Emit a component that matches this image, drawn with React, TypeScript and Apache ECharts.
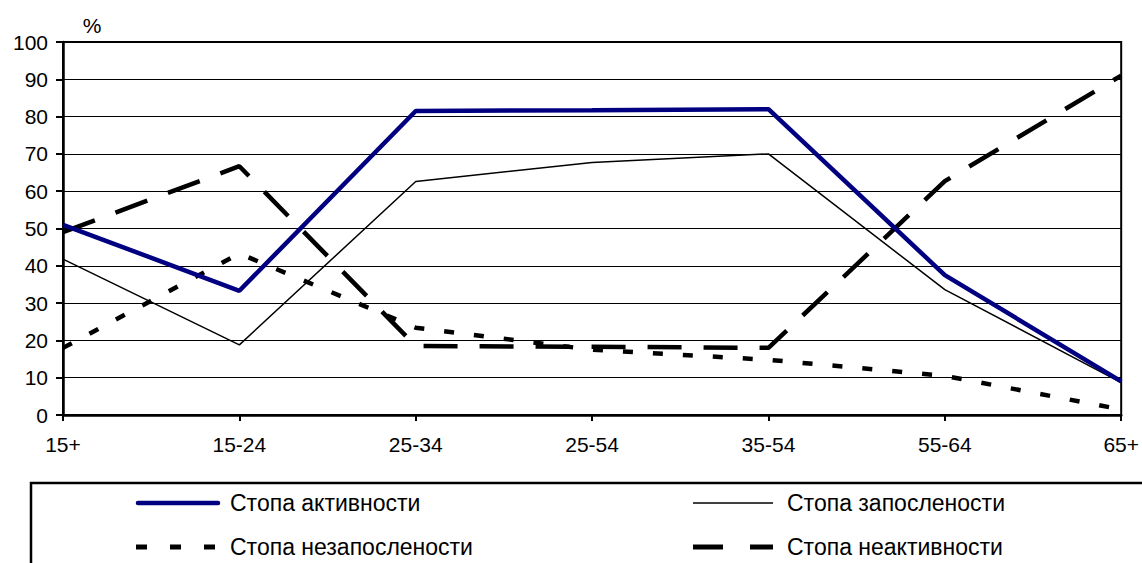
import React, { useEffect, useRef } from "react";
import * as echarts from "echarts";

const categories = ["15+", "15-24", "25-34", "25-54", "35-54", "55-64", "65+"];
const activityRate = [51, 33.3, 81.5, 81.7, 82, 37.5, 9];
const employmentRate = [41.8, 18.8, 62.6, 67.7, 70, 33.6, 8.7];
const unemploymentRate = [18, 43.3, 23.4, 17.5, 14.8, 10.5, 1.5];
const inactivityRate = [49, 66.7, 18.5, 18.3, 18, 62.7, 91];
const seriesNames = [
  "Стопа активности",
  "Стопа запослености",
  "Стопа незапослености",
  "Стопа неактивности",
];

const FONT = "'Liberation Sans', Arial, sans-serif";

const lineStyles = [
  { color: "#000080", width: 4.5, type: "solid" as any },
  { color: "#000", width: 1.5, type: "solid" as any },
  { color: "#000", width: 4.5, type: [10, 20] as any },
  { color: "#000", width: 4.5, type: [34, 22] as any },
];

export default function App() {
  const ref = useRef<HTMLDivElement>(null);
  useEffect(() => {
    document.body.style.margin = "0";
    const chart = echarts.init(ref.current!, null, { renderer: "svg" });
    const legendCommon = {
      orient: "vertical" as const,
      top: 491,
      itemWidth: 83,
      itemHeight: 24,
      itemGap: 20,
      padding: 0,
      selectedMode: false,
      icon: "rect",
      itemStyle: { color: "rgba(0,0,0,0)", opacity: 0, borderWidth: 0 },
      lineStyle: { opacity: 0 },
      textStyle: {
        fontFamily: FONT,
        fontSize: 23,
        color: "#000",
        lineHeight: 24,
        padding: [0, 0, 0, 6],
      },
    };
    const legendIcon = (x: number, y: number, w: number, width: number, color: string, dash: number[] | null, cap: string) => ({
      type: "line",
      silent: true,
      shape: { x1: x, y1: y, x2: x + w, y2: y },
      style: { stroke: color, lineWidth: width, lineDash: dash, lineCap: cap },
    });
    chart.setOption({
      animation: false,
      backgroundColor: "#fff",
      textStyle: { fontFamily: FONT },
      grid: {
        left: 63,
        right: 19,
        top: 42,
        bottom: 148,
        show: true,
        borderColor: "#000",
        borderWidth: 2,
        backgroundColor: "transparent",
      },
      legend: [
        { ...legendCommon, left: 136, data: [seriesNames[0], seriesNames[2]] },
        { ...legendCommon, left: 693, data: [seriesNames[1], seriesNames[3]] },
      ],
      graphic: [
        {
          type: "rect",
          shape: { x: 31, y: 483, width: 1200, height: 200 },
          style: { fill: "none", stroke: "#000", lineWidth: 2.5 },
          silent: true,
        },
        legendIcon(138, 503, 80, 4.5, "#000080", null, "round"),
        legendIcon(693, 503, 80, 1.5, "#000", null, "butt"),
        legendIcon(136, 547, 80, 5, "#000", [11, 23], "butt"),
        legendIcon(693, 547, 80, 5, "#000", [30, 27], "butt"),
        {
          type: "text",
          x: 92,
          y: 25,
          style: {
            text: "%",
            fontFamily: FONT,
            fontSize: 21,
            fill: "#000",
            align: "center",
            verticalAlign: "middle",
          },
        },
      ],
      xAxis: {
        type: "category",
        data: categories,
        boundaryGap: false,
        axisLine: { lineStyle: { color: "#000", width: 2.5 } },
        axisTick: { show: true, length: 6, inside: false, lineStyle: { color: "#000", width: 2 } },
        axisLabel: { color: "#000", fontSize: 21, fontFamily: FONT, margin: 19, interval: 0 },
        splitLine: { show: false },
      },
      yAxis: {
        type: "value",
        min: 0,
        max: 100,
        interval: 10,
        axisLine: { show: true, lineStyle: { color: "#000", width: 2.5 } },
        axisTick: { show: true, length: 7, lineStyle: { color: "#000", width: 2 } },
        axisLabel: { color: "#000", fontSize: 21, fontFamily: FONT, margin: 15 },
        splitLine: { show: true, lineStyle: { color: "#000", width: 1 } },
      },
      series: [
        {
          name: seriesNames[0],
          type: "line",
          data: activityRate,
          symbol: "none",
          color: "#000080",
          lineStyle: lineStyles[0],
          z: 5,
        },
        {
          name: seriesNames[1],
          type: "line",
          data: employmentRate,
          symbol: "none",
          color: "#000",
          lineStyle: lineStyles[1],
          z: 4,
        },
        {
          name: seriesNames[2],
          type: "line",
          data: unemploymentRate,
          symbol: "none",
          color: "#000",
          lineStyle: lineStyles[2],
          z: 3,
        },
        {
          name: seriesNames[3],
          type: "line",
          data: inactivityRate,
          symbol: "none",
          color: "#000",
          lineStyle: lineStyles[3],
          z: 3,
        },
      ],
    });
    return () => chart.dispose();
  }, []);
  return <div ref={ref} style={{ width: 1142, height: 563 }} />;
}
